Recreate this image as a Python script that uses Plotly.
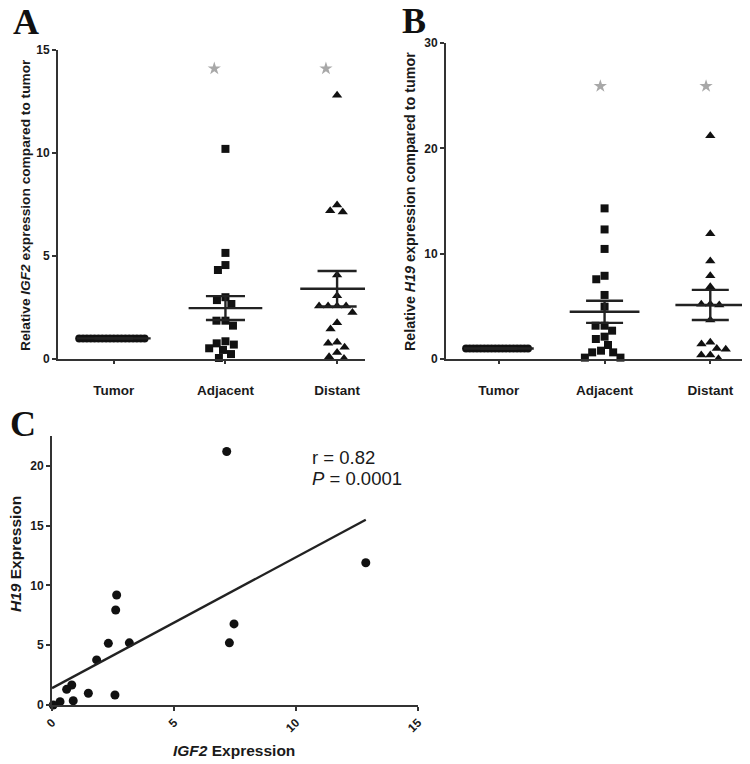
import numpy as np
import plotly.graph_objects as go

W, H = 750, 764

# ---------------- data ----------------
groups = ["Tumor", "Adjacent", "Distant"]

igf2_tumor = [1.0, 1.0, 1.0, 1.0, 1.0, 1.0, 1.0, 1.0, 1.0, 1.0, 1.0, 1.0, 1.0, 1.0, 1.0, 1.0, 1.0, 1.0]
igf2_adjacent = [10.2, 5.15, 4.56, 4.32, 3.0, 2.86, 2.67, 1.86, 1.86, 1.62, 0.86, 0.76, 0.70, 0.52, 0.44, 0.24, 0.05]
igf2_distant = [12.8, 7.48, 7.2, 7.14, 4.08, 3.07, 2.57, 2.57, 2.57, 2.57, 2.26, 1.76, 1.46, 0.81, 0.76, 0.57, 0.31, 0.11, 0.03]
igf2_mean = [1.0, 2.47, 3.41]
igf2_sem = [0.0, 0.58, 0.86]
igf2_sig = [None, 14.1, 14.1]

h19_tumor = [1.0, 1.0, 1.0, 1.0, 1.0, 1.0, 1.0, 1.0, 1.0, 1.0, 1.0, 1.0, 1.0, 1.0, 1.0, 1.0, 1.0, 1.0]
h19_adjacent = [14.3, 12.3, 10.45, 7.9, 7.57, 6.08, 4.97, 3.16, 3.16, 2.69, 2.12, 1.9, 1.33, 0.79, 0.63, 0.63, 0.13, 0.13]
h19_distant = [21.2, 11.9, 9.3, 7.9, 6.87, 5.2, 5.13, 5.2, 3.7, 1.59, 1.42, 1.0, 0.92, 0.38, 0.38, 0.02]
h19_mean = [1.0, 4.48, 5.13]
h19_sem = [0.0, 1.05, 1.43]
h19_sig = [None, 25.9, 25.9]

corr_igf2 = [7.16, 12.86, 7.46, 7.27, 2.65, 2.61, 2.31, 3.17, 1.83, 1.49, 2.58, 0.81, 0.6, 0.87, 0.33, 0.05]
corr_h19 = [21.2, 11.9, 6.78, 5.2, 9.2, 7.95, 5.16, 5.2, 3.77, 0.98, 0.84, 1.67, 1.31, 0.36, 0.28, 0.0]
r_text = "r = 0.82"
p_text = "<i>P</i> = 0.0001"

# ---------------- layout constants ----------------
def px2paper_x(px):
    return px / W

def px2paper_y(py):
    return 1 - py / H

A_dom_x = [px2paper_x(58), px2paper_x(365)]
A_dom_y = [px2paper_y(359), px2paper_y(50)]
A_xr = [-0.5, 2.25]
A_yr = [0, 15]

B_dom_x = [px2paper_x(446), px2paper_x(742)]
B_dom_y = [px2paper_y(359), px2paper_y(43)]
B_xr = [-0.5, 2.3]
B_yr = [0, 30]

C_dom_x = [px2paper_x(52), px2paper_x(418)]
C_dom_y = [px2paper_y(705), px2paper_y(436)]
C_xr = [0, 15]
C_yr = [0, 22.5]

AX_COL = "#333333"
TXT_COL = "#1a1a1a"
FONT = "Liberation Sans"
MEAN_HALF = 0.33
CAP_HALF = 0.175
SWARM_CAP = 0.31
DIAM = 9.0


def swarm(vals, ppx, ppy, diam=DIAM, cap=SWARM_CAP):
    vals = np.asarray(vals, dtype=float)
    ypx = vals * ppy
    n = len(vals)
    xs = np.zeros(n)
    placed = []
    order = np.argsort(-ypx, kind="stable")
    for i in order:
        cands = [0.0]
        for j in placed:
            dy = ypx[i] - ypx[j]
            if abs(dy) < diam:
                dx = np.sqrt(diam ** 2 - dy ** 2)
                cands += [xs[j] - dx, xs[j] + dx]
        cands.sort(key=lambda c: (round(abs(c), 6), c))
        for c in cands:
            ok = all((c - xs[j]) ** 2 + (ypx[i] - ypx[j]) ** 2 >= diam ** 2 - 1e-6 for j in placed)
            if ok:
                xs[i] = c
                break
        placed.append(i)
    off = xs / ppx
    m = np.abs(off).max() if n else 0
    if m > cap:
        off = off * cap / m
    return off


fig = go.Figure()


def dot_panel(xa, ya, dom_x, dom_y, xr, yr, series, means, sems, sig, sig_dx):
    ppx = (dom_x[1] - dom_x[0]) * W / (xr[1] - xr[0])
    ppy = (dom_y[1] - dom_y[0]) * H / (yr[1] - yr[0])
    symbols = ["circle", "square", "triangle-up"]
    sizes = [8, 8, 9]
    for k, vals in enumerate(series):
        off = swarm(vals, ppx, ppy)
        fig.add_trace(go.Scatter(
            x=k + off, y=vals, mode="markers", xaxis=xa, yaxis=ya,
            marker=dict(symbol=symbols[k], size=sizes[k], color="#111111", line=dict(width=0)),
            cliponaxis=False, showlegend=False, hoverinfo="skip"))
    for k in range(len(series)):
        m, s = means[k], sems[k]
        xs = [k - MEAN_HALF, k + MEAN_HALF, None,
              k - CAP_HALF, k + CAP_HALF, None,
              k - CAP_HALF, k + CAP_HALF, None,
              k, k]
        ys = [m, m, None, m + s, m + s, None, m - s, m - s, None, m - s, m + s]
        fig.add_trace(go.Scatter(x=xs, y=ys, mode="lines", xaxis=xa, yaxis=ya,
                                 line=dict(color="#222222", width=2.4),
                                 cliponaxis=False, showlegend=False, hoverinfo="skip"))
    sx = [k + sig_dx for k in range(len(sig)) if sig[k] is not None]
    sy = [v for v in sig if v is not None]
    fig.add_trace(go.Scatter(x=sx, y=sy, mode="markers", xaxis=xa, yaxis=ya,
                             marker=dict(symbol="star", size=10, color="#a8a8a8", line=dict(width=0)),
                             cliponaxis=False, showlegend=False, hoverinfo="skip"))


dot_panel("x", "y", A_dom_x, A_dom_y, A_xr, A_yr,
          [igf2_tumor, igf2_adjacent, igf2_distant], igf2_mean, igf2_sem, igf2_sig, -0.1)
dot_panel("x2", "y2", B_dom_x, B_dom_y, B_xr, B_yr,
          [h19_tumor, h19_adjacent, h19_distant], h19_mean, h19_sem, h19_sig, -0.04)

fig.add_trace(go.Scatter(x=corr_igf2, y=corr_h19, mode="markers", xaxis="x3", yaxis="y3",
                         marker=dict(symbol="circle", size=9, color="#111111", line=dict(width=0)),
                         cliponaxis=False, showlegend=False, hoverinfo="skip"))
slope, icpt = np.polyfit(corr_igf2, corr_h19, 1)
lx = np.array([0.0, max(corr_igf2)])
fig.add_trace(go.Scatter(x=lx, y=icpt + slope * lx, mode="lines", xaxis="x3", yaxis="y3",
                         line=dict(color="#222222", width=2.4), cliponaxis=False,
                         showlegend=False, hoverinfo="skip"))

tickfont = dict(family=FONT, size=12, color=TXT_COL, weight="bold")
catfont = dict(family=FONT, size=13.5, color=TXT_COL, weight="bold")
common = dict(showgrid=False, zeroline=False, showline=True, linecolor=AX_COL, linewidth=2,
              ticks="outside", tickwidth=1.5, tickcolor=AX_COL,
              fixedrange=True, automargin=False)

fig.update_layout(
    template="none",
    width=W, height=H, margin=dict(l=0, r=0, t=0, b=0, pad=0, autoexpand=False),
    paper_bgcolor="white", plot_bgcolor="white", showlegend=False,
    xaxis=dict(domain=A_dom_x, range=A_xr, anchor="y", tickvals=[0, 1, 2], ticktext=groups,
               ticklabelstandoff=15, ticklen=3, tickfont=catfont, **common),
    yaxis=dict(domain=A_dom_y, range=A_yr, anchor="x", tickvals=[0, 5, 10, 15], ticklen=4,
               tickfont=tickfont, **common),
    xaxis2=dict(domain=B_dom_x, range=B_xr, anchor="y2", tickvals=[0, 1, 2], ticktext=groups,
                ticklabelstandoff=15, ticklen=3, tickfont=catfont, **common),
    yaxis2=dict(domain=B_dom_y, range=B_yr, anchor="x2", tickvals=[0, 10, 20, 30], ticklen=4,
                tickfont=tickfont, **common),
    xaxis3=dict(domain=C_dom_x, range=C_xr, anchor="y3", tickvals=[0, 5, 10, 15], tickangle=-45,
                ticklen=4, tickfont=tickfont, **common),
    yaxis3=dict(domain=C_dom_y, range=C_yr, anchor="x3", tickvals=[0, 5, 10, 15, 20], ticklen=4,
                tickfont=tickfont, **common),
)


def label(text, px, py, font, angle=0, xanchor="center"):
    return dict(text=text, x=px2paper_x(px), y=px2paper_y(py), xref="paper", yref="paper",
                xanchor=xanchor, yanchor="middle", textangle=angle, showarrow=False, font=font)


ann = []
letter_font = dict(family="Liberation Serif", size=36, color="#111111", weight="bold")
ann.append(label("A", 26, 22, letter_font))
ann.append(label("B", 414, 21, letter_font))
ann.append(label("C", 23, 424, letter_font))

ann.append(label("Relative <i>IGF2</i> expression compared to tumor", 26, 205,
                 dict(family=FONT, size=13.7, color=TXT_COL, weight="bold"), -90))
ann.append(label("Relative <i>H19</i> expression compared to tumor", 410, 202,
                 dict(family=FONT, size=14.3, color=TXT_COL, weight="bold"), -90))
tfont2 = dict(family=FONT, size=15.5, color=TXT_COL, weight="bold")
ann.append(label("<i>H19</i> Expression", 15, 554, tfont2, -90))
ann.append(label("<i>IGF2</i> Expression", 234, 750, tfont2))
sfont = dict(family=FONT, size=18.5, color=TXT_COL)
ann.append(label(r_text, 310, 457, sfont, xanchor="left"))
ann.append(label(p_text, 310, 479, sfont, xanchor="left"))
fig.update_layout(annotations=ann)

fig.write_html("out.html", config={"displayModeBar": False},
               post_script="document.body.style.margin='0';document.body.style.padding='0';")
